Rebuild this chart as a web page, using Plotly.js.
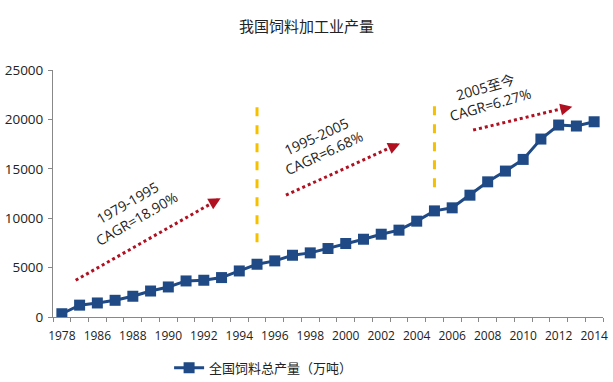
<!DOCTYPE html>
<html>
<head>
<meta charset="utf-8">
<script src="https://cdn.plot.ly/plotly-3.0.1.min.js"></script>
<style>html,body{margin:0;padding:0;background:#fff;}#chart{width:613px;height:382px;}</style>
</head>
<body>
<div id="chart"></div>
<script>
// Data
const years = ['1978','1985','1986','1987','1988','1989','1990','1991','1992','1993','1994','1995','1996','1997','1998','1999','2000','2001','2002','2003','2004','2005','2006','2007','2008','2009','2010','2011','2012','2013','2014'];
const output = [330,1200,1420,1690,2100,2630,3040,3650,3720,3990,4660,5340,5680,6250,6490,6930,7440,7870,8380,8790,9700,10740,11050,12330,13680,14770,15950,18010,19430,19330,19760];
const tickLabels = ['1978','','1986','','1988','','1990','','1992','','1994','','1996','','1998','','2000','','2002','','2004','','2006','','2008','','2010','','2012','','2014'];
const seriesName = '全国饲料总产量（万吨）';
const chartTitle = '我国饲料加工业产量';
const periodLabels = ['1979-1995<br>CAGR=18.90%','1995-2005<br>CAGR=6.68%','2005至今<br>CAGR=6.27%'];
const dividerYears = ['1995','2005'];

const cjk = '"Noto Sans CJK SC", "Noto Sans", sans-serif';
const latin = '"Open Sans", "Noto Sans CJK SC", sans-serif';

const idx = y => years.indexOf(y);

// annotation geometry
const labelPos = [{x:3.95,y:10810,a:-30},{x:14.55,y:17500,a:-25},{x:24.03,y:22370,a:-16}];
const arrows = [
  {x0:0.78,y0:3720,x1:8.55,y1:11620,ax:-6,ay:3.4},
  {x0:12.63,y0:12330,x1:18.7,y1:17300,ax:-6.4,ay:2.9},
  {x0:23.18,y0:18920,x1:28.4,y1:21180,ax:-6.8,ay:1.6}
];
const arrowTips = [{x:8.95,y:12030},{x:19.06,y:17570},{x:28.77,y:21280}];
const dividerSpans = [[7570,21650],[13140,21750]];

const shapes = [];
dividerYears.forEach((yr,i)=>{
  shapes.push({type:'line',xref:'x',yref:'y',x0:idx(yr),x1:idx(yr),y0:dividerSpans[i][0],y1:dividerSpans[i][1],
    line:{color:'#F5C000',width:3,dash:'dash'}});
});
arrows.forEach(a=>{
  shapes.push({type:'line',xref:'x',yref:'y',x0:a.x0,y0:a.y0,x1:a.x1,y1:a.y1,line:{color:'#B01020',width:3,dash:'dot'}});
});

const annotations = [];
periodLabels.forEach((t,i)=>{
  annotations.push({xref:'x',yref:'y',x:labelPos[i].x,y:labelPos[i].y,text:t,showarrow:false,textangle:labelPos[i].a,
    font:{family:latin,size:14,color:'#222'},align:'center'});
});
arrowTips.forEach((p,i)=>{
  annotations.push({xref:'x',yref:'y',x:p.x,y:p.y,text:'',showarrow:true,arrowhead:2,arrowsize:0.8,arrowwidth:3,
    arrowcolor:'#B01020',ax:arrows[i].ax,ay:arrows[i].ay});
});

const trace = {
  type:'scatter',mode:'lines+markers',x:years,y:output,name:seriesName,
  line:{color:'#1F4A85',width:3},
  marker:{symbol:'square',size:11,color:'#1F4A85'}
};

const layout = {
  width:613,height:382,
  margin:{l:53,r:10,t:70,b:65,autoexpand:false},
  paper_bgcolor:'#fff',plot_bgcolor:'#fff',
  title:{text:chartTitle,x:0.5,xanchor:'center',y:0.93,yanchor:'middle',font:{family:cjk,size:15,color:'#222'}},
  showlegend:true,
  legend:{orientation:'h',xref:'container',yref:'container',x:0.43,xanchor:'center',y:0.037,yanchor:'middle',itemwidth:30,font:{family:cjk,size:13,color:'#222'}},
  xaxis:{type:'category',tickmode:'array',tickvals:years,ticktext:tickLabels,tickson:'boundaries',ticks:'outside',ticklen:4,
    tickcolor:'#888',showline:true,linecolor:'#888',linewidth:1,showgrid:false,zeroline:false,ticklabelstandoff:8,automargin:false,
    tickfont:{family:latin,size:12,color:'#222'},tickangle:0,range:[-0.5,30.5]},
  yaxis:{range:[0,25000],dtick:5000,tickformat:'d',ticks:'outside',ticklen:4,tickcolor:'#888',showline:true,linecolor:'#888',automargin:false,
    showgrid:false,zeroline:false,ticklabelstandoff:2,tickfont:{family:latin,size:13.5,color:'#222'}},
  shapes:shapes,annotations:annotations
};

Plotly.newPlot('chart',[trace],layout,{displayModeBar:false,staticPlot:true});
</script>
</body>
</html>
